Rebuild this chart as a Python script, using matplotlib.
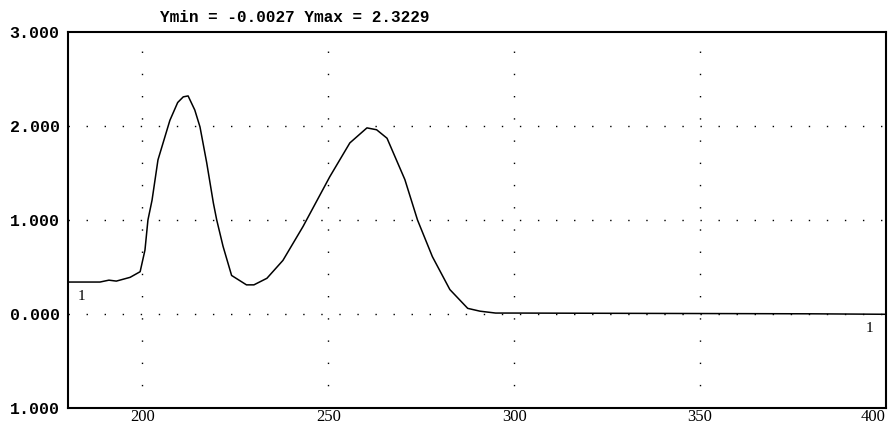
import matplotlib
matplotlib.use("Agg")
import matplotlib.pyplot as plt

# Absorbance spectrum, wavelength (nm) vs absorbance
wavelength = [180, 185, 188.6, 191, 193, 196.7, 199.4, 200.7, 201.5, 202.6, 204.2, 207.4,
              209.5, 211, 212.3, 214.1, 215.5, 217.3, 219.1, 220, 221.7, 224, 228, 230,
              233.5, 237.8, 243.2, 250.4, 255.8, 260.4, 263, 265.8, 270.6, 274, 278,
              282.7, 287.5, 290.8, 295, 300, 320, 350, 380, 400]
absorbance = [0.34, 0.34, 0.34, 0.36, 0.35, 0.39, 0.45, 0.68, 1.0, 1.21, 1.64, 2.06,
              2.25, 2.31, 2.32, 2.17, 1.99, 1.61, 1.18, 1.0, 0.72, 0.41, 0.31, 0.31,
              0.38, 0.57, 0.93, 1.46, 1.82, 1.98, 1.96, 1.87, 1.43, 1.0, 0.61,
              0.26, 0.06, 0.03, 0.01, 0.01, 0.008, 0.005, 0.002, -0.003]

x_ticks = [200, 250, 300, 350, 400]
x_tick_labels = ["200", "250", "300", "350", "400"]
y_ticks = [3, 2, 1, 0, -1]
y_tick_labels = ["3.000", "2.000", "1.000", "0.000", "1.000"]
title_text = "Ymin = -0.0027 Ymax = 2.3229"
trace_label = "1"

fig = plt.figure(figsize=(8.93, 4.29), dpi=100)
ax = fig.add_axes([68 / 893, 21 / 429, 818 / 893, 376 / 429])

ax.plot(wavelength, absorbance, color="black", linewidth=1.1)

ax.set_xlim(180, 400)
ax.set_ylim(-1, 3)

# dotted grid at the inner tick positions
for gx in [200, 250, 300, 350]:
    ax.axvline(gx, color="black", linewidth=1.0, linestyle=(0, (1, 15)), zorder=0)
for gy in [2, 1, 0]:
    ax.axhline(gy, color="black", linewidth=1.0, linestyle=(0, (1, 12)), zorder=0)

ax.set_xticks(x_ticks)
ax.set_xticklabels(x_tick_labels, fontfamily="Liberation Serif", fontsize=12)
ax.get_xticklabels()[-1].set_horizontalalignment("right")
ax.set_yticks(y_ticks)
ax.set_yticklabels(y_tick_labels, fontfamily="Liberation Mono", fontsize=12,
                   fontweight="bold")
ax.tick_params(axis="both", length=0)
ax.tick_params(axis="x", pad=1)
ax.tick_params(axis="y", pad=6)

for s in ax.spines.values():
    s.set_linewidth(1.5)
    s.set_color("black")

# trace number at both ends of the curve
ax.text(wavelength[0] + 2.5, absorbance[0] - 0.08, trace_label, fontfamily="Liberation Serif",
        fontsize=11, ha="left", va="top")
ax.text(wavelength[-1] - 3.5, absorbance[-1] - 0.08, trace_label, fontfamily="Liberation Serif",
        fontsize=11, ha="right", va="top")

fig.text(160 / 893, 1 - 17 / 429, title_text, fontfamily="Liberation Mono",
         fontsize=11.5, fontweight="bold", ha="left", va="center")

fig.savefig("out.png", dpi=100, facecolor="white")
